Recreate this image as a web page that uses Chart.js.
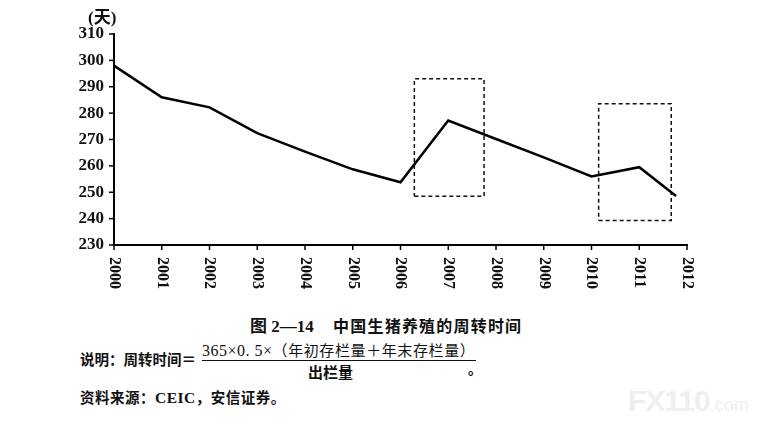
<!DOCTYPE html>
<html>
<head>
<meta charset="utf-8">
<script src="https://cdn.jsdelivr.net/npm/chart.js@4.4.1/dist/chart.umd.min.js"></script>
<style>
  body { margin: 0; background: #fff; width: 758px; height: 426px; overflow: hidden; position: relative; }
  #wrap { position: absolute; left: 0; top: 0; width: 758px; height: 300px; }
  .t { position: absolute; white-space: nowrap; color: #111; font-weight: bold;
       font-family: "Noto Sans CJK SC", "Liberation Serif", serif; }
  .serif { font-family: "Liberation Serif", "Noto Sans CJK SC", serif; }
</style>
</head>
<body>
<div id="wrap"><canvas id="turnoverChart" width="758" height="300"></canvas></div>

<div class="t serif" style="left:88px; top:3px; font-size:17px;">(天)</div>

<div class="t" style="left:250px; top:312px; font-size:16px; letter-spacing:1.2px;">
  <span class="serif" style="font-size:17px; letter-spacing:0;">图 2—14</span>&nbsp;&nbsp;&nbsp;&nbsp;中国生猪养殖的周转时间
</div>

<div class="t" style="left:80px; top:348px; font-size:14.5px;">说明：周转时间＝</div>
<div class="t" style="left:202px; top:341px; font-size:15px; font-weight:normal; border-bottom:1.5px solid #111; line-height:18px; padding-right:1px; letter-spacing:0.6px;">
  <span class="serif" style="font-size:16px; letter-spacing:0.5px;">365×0. 5×</span>（年初存栏量＋年末存栏量）
</div>
<div class="t" style="left:308px; top:361px; font-size:15px;">出栏量</div>
<div class="t" style="left:468px; top:358px; font-size:14px;">。</div>

<div class="t" style="left:80px; top:386px; font-size:14.5px; letter-spacing:0.5px;">资料来源：<span class="serif" style="font-size:15.5px;">CEIC</span>，安信证券。</div>

<div class="t" style="left:628px; top:384px; font-size:30px; color:#efefef; font-family:'Liberation Sans', sans-serif; letter-spacing:-1px;">FX110<span style="font-size:18px; font-weight:normal; letter-spacing:0;">.com</span></div>

<script>
// x positions of the observations (the last point sits just short of the 2012 tick)
const turnoverX = [2000, 2001, 2002, 2003, 2004, 2005, 2006, 2007, 2008, 2009, 2010, 2011, 2011.77];
// turnover time in days
const turnoverDays = [298, 286, 282.2, 272.4, 265.4, 258.7, 253.8, 277.2, 270.2, 263.2, 256, 259.5, 248.6];

const yearLabels = ['2000', '2001', '2002', '2003', '2004', '2005', '2006',
                    '2007', '2008', '2009', '2010', '2011', '2012'];
const dayTicks = [230, 240, 250, 260, 270, 280, 290, 300, 310];

// dashed highlight boxes: [xFrom, xTo], [yFrom, yTo]
const box1X = [2006.29, 2007.75];
const box1Y = [248.5, 293];
const box2X = [2010.15, 2011.67];
const box2Y = [239.3, 283.6];

function boxPoints(xs, ys) {
    return [
        { x: xs[0], y: ys[0] },
        { x: xs[1], y: ys[0] },
        { x: xs[1], y: ys[1] },
        { x: xs[0], y: ys[1] },
        { x: xs[0], y: ys[0] }
    ];
}

// outward tick marks and x labels reading top to bottom
const axisDecor = {
    id: 'axisDecor',
    afterDraw(chart) {
        const ctx = chart.ctx;
        const xs = chart.scales.x;
        const ys = chart.scales.y;
        const area = chart.chartArea;
        ctx.save();
        ctx.strokeStyle = '#000';
        ctx.lineWidth = 1.5;
        ys.ticks.forEach(t => {
            const py = ys.getPixelForValue(t.value);
            ctx.beginPath();
            ctx.moveTo(area.left, py);
            ctx.lineTo(area.left - 5, py);
            ctx.stroke();
        });
        ctx.fillStyle = '#111';
        ctx.font = 'bold 16px "Liberation Serif", serif';
        ctx.textAlign = 'left';
        ctx.textBaseline = 'middle';
        xs.ticks.forEach((t, i) => {
            const px = xs.getPixelForValue(t.value);
            ctx.beginPath();
            ctx.moveTo(px, area.bottom);
            ctx.lineTo(px, area.bottom + 5);
            ctx.stroke();
            ctx.save();
            ctx.translate(px, area.bottom + 12);
            ctx.rotate(Math.PI / 2);
            ctx.fillText(yearLabels[i], 0, 0);
            ctx.restore();
        });
        ctx.restore();
    }
};

const dashedBox = {
    borderColor: '#111',
    borderWidth: 1.5,
    borderDash: [4, 3],
    pointRadius: 0,
    fill: false,
    tension: 0
};

const ctx = document.getElementById('turnoverChart').getContext('2d');
new Chart(ctx, {
    type: 'line',
    data: {
        datasets: [
            {
                label: '周转时间',
                data: turnoverX.map((x, i) => ({ x: x, y: turnoverDays[i] })),
                borderColor: '#000',
                borderWidth: 2.5,
                pointRadius: 0,
                tension: 0,
                fill: false
            },
            Object.assign({ label: 'box1', data: boxPoints(box1X, box1Y) }, dashedBox),
            Object.assign({ label: 'box2', data: boxPoints(box2X, box2Y) }, dashedBox)
        ]
    },
    options: {
        responsive: false,
        animation: false,
        layout: { padding: { left: 0, top: 34, right: 71, bottom: 0 } },
        plugins: {
            legend: { display: false },
            tooltip: { enabled: false }
        },
        scales: {
            x: {
                type: 'linear',
                min: 2000,
                max: 2012,
                grid: { display: false, drawTicks: false },
                border: { display: true, color: '#000', width: 2 },
                ticks: { display: false, stepSize: 1 },
                afterFit: scale => { scale.height = 55; }
            },
            y: {
                min: 230,
                max: 310,
                grid: { display: false, drawTicks: false },
                border: { display: true, color: '#000', width: 2 },
                afterBuildTicks: scale => {
                    scale.ticks = dayTicks.map(v => ({ value: v }));
                },
                ticks: {
                    padding: 10,
                    color: '#111',
                    font: { family: '"Liberation Serif", serif', weight: 'bold', size: 17 }
                },
                afterFit: scale => { scale.width = 114; }
            }
        }
    },
    plugins: [axisDecor]
});
</script>
</body>
</html>
